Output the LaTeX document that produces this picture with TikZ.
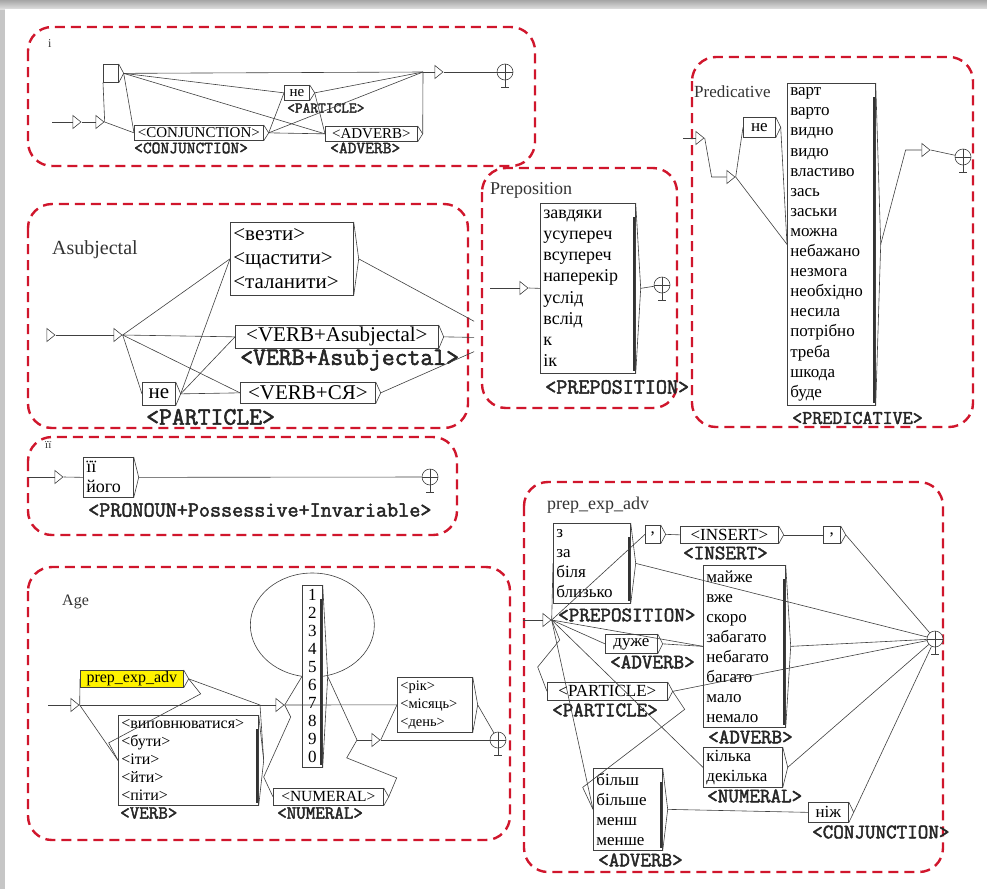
\documentclass[tikz,border=0pt]{standalone}
\usepackage{fontspec}
\setmainfont{Liberation Serif}
\setmonofont{Latin Modern Mono}[BoldFont={*}, BoldFeatures={FakeBold=2.2}]
\usetikzlibrary{calc, shapes.geometric, backgrounds}
\definecolor{dashred}{RGB}{208,22,44}
\newcommand\fsz[2]{\fontsize{#1}{#2}\selectfont}

\begin{document}
\begin{tikzpicture}[x=1pt, y=-1pt,
    ln/.style={draw=black!75, line width=0.6pt},
    box/.style 2 args={draw=black!75, line width=0.7pt, fill=white, anchor=north west,
                       inner xsep=3pt, inner ysep=0pt, align=left, font=\fsz{#1}{#2}},
    out/.style={anchor=west, inner sep=0pt, font=\ttfamily\bfseries\fsz{#1}{#1}, text=black!85},
    ttl/.style={anchor=west, inner sep=0pt, font=\fsz{#1}{#1}, text=black!80},
    tri/.style={isosceles triangle, isosceles triangle stretches, draw=black!75, line width=0.6pt,
                fill=white, inner sep=0pt, minimum width=13pt, minimum height=8pt},
    fin/.style={circle, draw=black!75, line width=0.6pt, fill=white, inner sep=0pt, minimum size=16pt,
                path picture={\draw[black!75, line width=0.6pt]
                  (path picture bounding box.north) -- (path picture bounding box.south)
                  (path picture bounding box.west) -- (path picture bounding box.east);}},
    panel/.style={draw=dashred, line width=2.4pt, dash pattern=on 10pt off 6pt, rounded corners=24pt}
  ]
  \useasboundingbox (0,0) rectangle (987,889);
  \begin{scope}[on background layer]
    \fill[gray!45] (0,0) rectangle (987,889);
    \shade[top color=gray!70, bottom color=gray!25] (0,0) rectangle (987,9);
    \fill[white] (5,9) rectangle (987,889);
    % the seven graphs
    \draw[panel] (28,27) rectangle (535,166);
    \draw[panel] (28,204) rectangle (468,428);
    \draw[panel] (482,168) rectangle (677,408);
    \draw[panel] (692,57) rectangle (973,427);
    \draw[panel] (28,437) rectangle (457,535);
    \draw[panel] (28,567) rectangle (510,840);
    \draw[panel] (524,482) rectangle (943,872);
  \end{scope}

  % i
  \node[ttl=12] (iT) at (48,44) {i};
  \coordinate (is) at (52,122);
  \node[tri] (i1) at (76,122) {};
  \node[tri] (i2) at (99,122) {};
  \node[box={15}{17}, minimum width=15pt, minimum height=18pt] (iE) at (103,64) {};
  \node[box={15}{17}, minimum width=25pt, minimum height=15pt] (ine) at (284,85) {не};
  \node[box={15}{17}, minimum width=129pt, minimum height=15pt] (iconj) at (134,125) {<CONJUNCTION>};
  \node[box={15}{17}, minimum width=92pt, minimum height=15pt] (iadv) at (325,126) {<ADVERB>};
  \node[out=15] (iLne) at (287,108) {<PARTICLE>};
  \node[out=17] (iLconj) at (134,148) {<CONJUNCTION>};
  \node[out=17] (iLadv) at (330,148) {<ADVERB>};
  \coordinate (ij) at (423,72);
  \node[tri] (i3) at (438,72) {};
  \node[fin] (ifin) at (505,72) {};

  % Asubjectal
  \node[ttl=20] (aT) at (52,250) {Asubjectal};
  \node[tri] (a1) at (50,335) {};
  \node[tri] (a2) at (117,335) {};
  \node[box={21}{24}, text width=117pt, minimum height=73pt] (aw) at (230,222)
    {<везти>\\<щастити>\\<таланити>};
  \node[box={21}{24}, minimum width=203pt, minimum height=23pt] (ava) at (235,325) {<VERB+Asubjectal>};
  \node[box={21}{24}, minimum width=33pt, minimum height=23pt] (ane) at (142,382) {не};
  \node[box={21}{24}, minimum width=135pt, minimum height=21pt] (asja) at (240,382) {<VERB+СЯ>};
  \node[out=25] (aLva) at (240,360) {<VERB+Asubjectal>};
  \node[out=25] (aLne) at (146,417) {<PARTICLE>};
  \coordinate (aend) at (505,338);

  % Preposition
  \node[ttl=18] (pT) at (490,190) {Preposition};
  \coordinate (ps) at (490,288);
  \node[tri] (p1) at (523,288) {};
  \node[box={18}{21.2}, text width=89pt, minimum height=170pt] (pbox) at (540,203)
    {завдяки\\усупереч\\всупереч\\наперекір\\услід\\вслід\\к\\ік};
  \node[fin] (pfin) at (662,285) {};
  \node[out=21.5] (pL) at (545,387) {<PREPOSITION>};

  % Predicative
  \node[ttl=17] (rT) at (694,92) {Predicative};
  \coordinate (rs) at (683,138);
  \node[tri] (r1) at (699,138) {};
  \node[tri] (r2) at (730,177) {};
  \node[box={17}{20}, minimum width=32pt, minimum height=20pt] (rne) at (743,117) {не};
  \node[box={17}{20.1}, text width=82pt, minimum height=322pt] (rbox) at (787,83)
    {варт\\варто\\видно\\видю\\властиво\\зась\\заськи\\можна\\небажано\\незмога\\необхідно\\несила\\потрібно\\треба\\шкода\\буде};
  \node[tri] (r3) at (925,150) {};
  \node[fin] (rfin) at (963,157) {};
  \node[out=19.5] (rL) at (792,418) {<PREDICATIVE>};

  % ii
  \node[ttl=11] (jT) at (45,445) {її};
  \coordinate (js) at (28,477);
  \node[tri] (j1) at (58,477) {};
  \node[box={18}{20}, text width=44pt, minimum height=40pt] (jbox) at (83,457) {її\\його};
  \node[fin] (jfin) at (430,477) {};
  \node[out=21.5] (jL) at (88,510) {<PRONOUN+Possessive+Invariable>};

  % Age
  \node[ttl=16] (gT) at (62,602) {Age};
  \coordinate (gs) at (48,705);
  \node[tri] (g1) at (74,705) {};
  \node[box={16}{17}, fill=yellow, minimum width=103pt, minimum height=17pt] (gprep) at (80,670) {prep\_exp\_adv};
  \node[box={16}{18}, text width=134pt, minimum height=90pt] (gverb) at (118,715)
    {<виповнюватися>\\<бути>\\<іти>\\<йти>\\<піти>};
  \node[box={15.5}{17}, minimum width=110pt, minimum height=17pt] (gnum) at (273,788) {<NUMERAL>};
  \node[box={17}{18}, text width=14pt, align=center, minimum height=182pt] (gdig) at (302,585)
    {1\\2\\3\\4\\5\\6\\7\\8\\9\\0};
  \coordinate (gj) at (260,705);
  \node[tri] (g2) at (279,705) {};
  \coordinate (gk) at (357,740);
  \node[tri] (g3) at (375,740) {};
  \node[box={14.5}{18}, text width=69pt, minimum height=55pt] (grik) at (397,677) {<рік>\\<місяць>\\<день>};
  \node[fin] (gfin) at (498,740) {};
  \node[out=18.5] (gLverb) at (120,813) {<VERB>};
  \node[out=18.5] (gLnum) at (277,813) {<NUMERAL>};

  % prep_exp_adv
  \node[ttl=18] (kT) at (547,505) {prep\_exp\_adv};
  \coordinate (ks) at (523,620);
  \node[tri] (k1) at (546,620) {};
  \node[box={17}{20}, text width=71pt, minimum height=80pt] (kprep) at (553,523) {з\\за\\біля\\близько};
  \node[out=20.5] (kLprep) at (558,615) {<PREPOSITION>};
  \node[box={17}{18}, minimum width=15pt, minimum height=18pt] (kc1) at (645,525) {,};
  \node[box={17}{18}, minimum width=98pt, minimum height=17pt] (kins) at (680,526) {<INSERT>};
  \node[out=20.5] (kLins) at (683,553) {<INSERT>};
  \node[box={17}{18}, minimum width=17pt, minimum height=17pt] (kc2) at (823,526) {,};
  \node[fin] (kfin) at (935,639) {};
  \node[box={17}{18}, minimum width=52pt, minimum height=19pt] (kdu) at (605,634) {дуже};
  \node[out=20.5] (kLdu) at (610,662) {<ADVERB>};
  \node[box={17}{20}, text width=76pt, minimum height=162pt] (kadv) at (703,565)
    {майже\\вже\\скоро\\забагато\\небагато\\багато\\мало\\немало};
  \node[out=20.5] (kLadv) at (708,737) {<ADVERB>};
  \node[box={17}{18}, minimum width=120pt, minimum height=18pt] (kpart) at (547,682) {<PARTICLE>};
  \node[out=20.5] (kLpart) at (552,710) {<PARTICLE>};
  \node[box={17}{20}, text width=73pt, minimum height=40pt] (kkil) at (703,747) {кілька\\декілька};
  \node[out=20.5] (kLkil) at (707,796) {<NUMERAL>};
  \node[box={17}{20}, text width=63pt, minimum height=82pt] (kmore) at (593,768) {більш\\більше\\менш\\менше};
  \node[out=20.5] (kLmore) at (598,860) {<ADVERB>};
  \node[box={17}{18}, minimum width=40pt, minimum height=20pt] (knizh) at (808,802) {ніж};
  \node[out=20.5] (kLnizh) at (812,832) {<CONJUNCTION>};

  % box exits
  \foreach \b in {iE,ine,iconj,iadv,aw,ava,ane,asja,pbox,rne,rbox,jbox,
                  gprep,gverb,gnum,gdig,grik,kprep,kc1,kins,kc2,kdu,kadv,kpart,kkil,kmore,knizh}
    \draw[ln] (\b.north east) -- ([xshift=5pt]\b.east) coordinate (\b-o) -- (\b.south east);
  % dark bars inside the long lists
  \foreach \b in {pbox,rbox,gverb,gdig,kprep,kadv,kmore}
    \draw[black!80, line width=1.6pt] ([xshift=-2pt, yshift=-14pt]\b.north east)
      -- ([xshift=-2pt, yshift=3pt]\b.south east);
  % final states
  \foreach \f in {ifin,pfin,rfin,jfin,gfin,kfin}
    \draw[ln] (\f.south) -- ++(0,7) ++(-4,0) -- ++(8,0);

  % transitions: i
  \draw[ln] (is) -- (i1.west);
  \draw[ln] (i1.east) -- (i2.west);
  \draw[ln] (i2.east) -- (iE.south west);
  \draw[ln] (i2.east) -- (iconj.west);
  \foreach \t in {ine,iadv,iconj}
    \draw[ln] (iE-o) -- (\t.west);
  \draw[ln] (iE-o) -- (ij);
  \foreach \t in {ine,iadv}
    \draw[ln] (iconj-o) -- (\t.west);
  \draw[ln] (iconj-o) -- (ij);
  \draw[ln] (ine-o) -- (ij);
  \draw[ln] (ine-o) -- (iadv.west);
  \draw[ln] (iadv-o) -- (ij);
  \draw[ln] (ij) -- (i3.west);
  \draw[ln] (i3.east) -- (ifin);

  % Asubjectal
  \draw[ln] (a1.east) -- (a2.west);
  \foreach \t in {aw,ava,asja,ane}
    \draw[ln] (a2.east) -- (\t.west);
  \foreach \t in {aw,ava,asja}
    \draw[ln] (ane-o) -- (\t.west);
  \begin{scope}
    \clip (0,190) rectangle (474,440);
    \foreach \t in {aw,ava,asja}
      \draw[ln] (\t-o) -- (aend);
  \end{scope}

  % Preposition
  \draw[ln] (ps) -- (p1.west);
  \draw[ln] (p1.east) -- (pbox.west);
  \draw[ln] (pbox-o) -- (pfin);

  % Predicative
  \draw[ln] (rs) -- (r1.west);
  \draw[ln] (r1.east) -- ([xshift=-15pt]r2.west) -- (r2.west);
  \draw[ln] (r2.east) -- (rne.west);
  \draw[ln] (r2.east) -- (rbox.west);
  \draw[ln] (rne-o) -- (rbox.west);
  \draw[ln] (rbox-o) -- ([xshift=-16pt]r3.west) -- (r3.west);
  \draw[ln] (r3.east) -- (rfin);

  % ii
  \draw[ln] (js) -- (j1.west);
  \draw[ln] (j1.east) -- (jbox.west);
  \draw[ln] (jbox-o) -- (jfin);

  % Age
  \draw[ln] (gs) -- (g1.west);
  \draw[ln] (g1.east) -- (gprep.west);
  \draw[ln] (g1.east) -- (gverb.west);
  \draw[ln] (g1.east) -- (gj) -- (g2.west);
  \draw[ln] (gprep-o) -- (gj);
  \draw[ln] (gprep-o) -- ++(12,15) -- ++(-92,49) -- (gverb.west);
  \draw[ln] (gverb-o) -- (gj);
  \draw[ln] (g2.east) -- ++(6,12) -- ++(-27,60) -- (gnum.west);
  \draw[ln] (g2.east) -- (gdig.west);
  \draw[ln] (g2.east) -- (grik.west);
  \draw[ln] (gdig-o) -- (gk);
  \draw[ln] (gnum-o) -- ++(8,-19) -- ++(-50,-20) -- (gk);
  \draw[ln] (gk) -- (g3.west);
  \draw[ln] (g3.east) -- (grik.west);
  \draw[ln] (g3.east) -- (gfin);
  \draw[ln] (grik-o) -- (gfin);
  \begin{scope}[on background layer]
    \draw[ln] ([yshift=-40pt]gdig.north) ellipse [x radius=62pt, y radius=52pt];
  \end{scope}

  % prep_exp_adv
  \draw[ln] (ks) -- (k1.west);
  \foreach \t in {kprep,kc1,kdu,kadv,kkil,kmore}
    \draw[ln] (k1.east) -- (\t.west);
  \draw[ln] (k1.east) -- ++(8,20) -- ++(-22,27) -- (kpart.west);
  \draw[ln] (kc1-o) -- (kins.west);
  \draw[ln] (kins-o) -- (kc2.west);
  \draw[ln] (kdu-o) -- (kadv.west);
  \draw[ln] (kpart-o) -- ++(12,18) -- ++(-102,78) -- (kmore.west);
  \draw[ln] (kmore-o) -- (knizh.west);
  \foreach \t in {kc2,kprep,kadv,kpart,kkil,knizh}
    \draw[ln] (\t-o) -- (kfin);
\end{tikzpicture}
\end{document}
